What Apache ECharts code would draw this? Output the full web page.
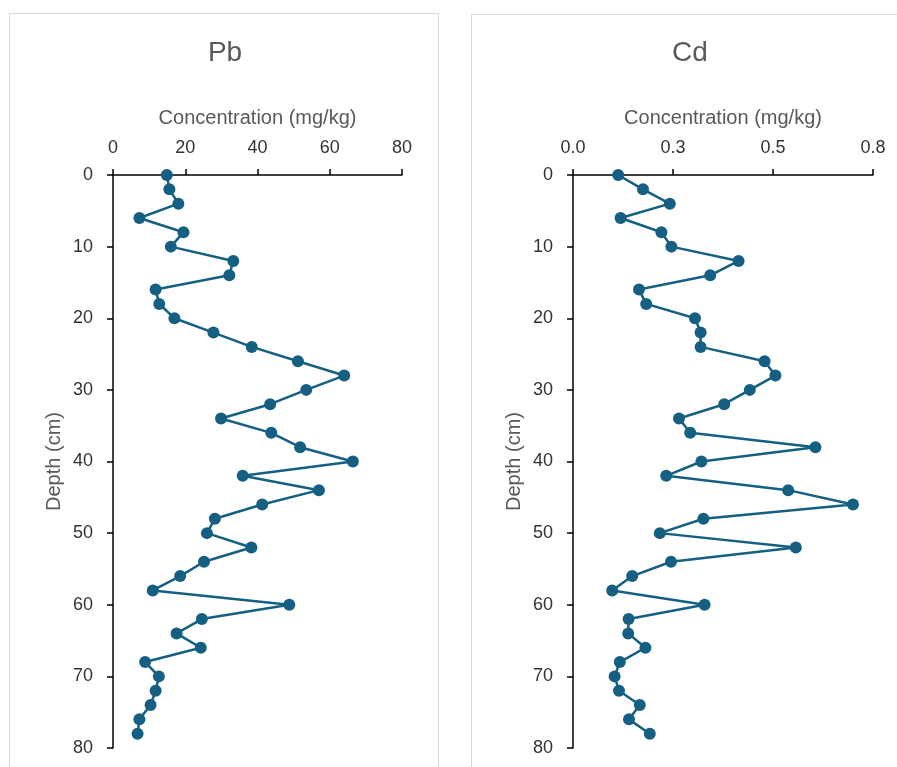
<!DOCTYPE html>
<html lang="en">
<head>
    <meta charset="UTF-8">
    <title>Pb and Cd depth profiles</title>
    <script src="https://cdn.jsdelivr.net/npm/echarts/dist/echarts.min.js"></script>
    <style>
        html, body { margin: 0; padding: 0; background: #fff; }
        .page { position: relative; width: 897px; height: 767px; overflow: hidden; }
        .panel { position: absolute; border: 1.5px solid #d9d9d9; background: #fff; }
        #chart { position: absolute; left: 0; top: 0; width: 897px; height: 767px; }
    </style>
</head>
<body>
    <div class="page">
        <div class="panel" style="left:9px; top:13px; width:428px; height:800px;"></div>
        <div class="panel" style="left:471px; top:14px; width:460px; height:800px;"></div>
        <div id="chart"></div>
    </div>
    <script>
        // depth of each sample (cm)
        var depth = [0, 2, 4, 6, 8, 10, 12, 14, 16, 18, 20, 22, 24, 26, 28, 30, 32, 34, 36, 38,
                     40, 42, 44, 46, 48, 50, 52, 54, 56, 58, 60, 62, 64, 66, 68, 70, 72, 74, 76, 78];
        // concentrations (mg/kg)
        var pb = [14.9, 15.6, 18.1, 7.3, 19.5, 16.0, 33.3, 32.2, 11.8, 12.8,
                  17.0, 27.8, 38.4, 51.2, 64.0, 53.5, 43.5, 29.9, 43.8, 51.8,
                  66.4, 35.9, 57.0, 41.3, 28.2, 26.0, 38.3, 25.2, 18.6, 11.0,
                  48.8, 24.6, 17.6, 24.3, 8.9, 12.7, 11.8, 10.4, 7.3, 6.8];
        var cd = [0.113, 0.175, 0.242, 0.119, 0.221, 0.246, 0.414, 0.343, 0.165, 0.183,
                  0.305, 0.319, 0.319, 0.479, 0.506, 0.442, 0.378, 0.265, 0.293, 0.606,
                  0.321, 0.233, 0.538, 0.700, 0.326, 0.217, 0.557, 0.245, 0.148, 0.098,
                  0.329, 0.139, 0.138, 0.181, 0.117, 0.104, 0.115, 0.167, 0.140, 0.192];
        // axis ranges
        var pbAxis = [0, 80, 20];
        var cdAxis = [0, 0.75, 0.25];
        var depthAxis = [0, 80, 10];

        var blue = '#156082';
        var font = 'Liberation Sans, Arial, sans-serif';

        function pairs(vals) {
            return vals.map(function (v, i) { return [v, depth[i]]; });
        }

        function xAxisFor(idx, range, fmt) {
            return {
                gridIndex: idx, type: 'value', position: 'top',
                min: range[0], max: range[1], interval: range[2],
                name: 'Concentration (mg/kg)', nameLocation: 'middle', nameGap: 47,
                nameTextStyle: { color: '#595959', fontSize: 20, fontFamily: font },
                axisLine: { show: true, lineStyle: { color: '#000', width: 1.5 } },
                axisTick: { show: true, length: 6, lineStyle: { color: '#000', width: 1.5 } },
                axisLabel: { color: '#333', fontSize: 18, fontFamily: font, margin: 18, formatter: fmt },
                splitLine: { show: false }
            };
        }

        function yAxisFor(idx) {
            return {
                gridIndex: idx, type: 'value', inverse: true,
                min: depthAxis[0], max: depthAxis[1], interval: depthAxis[2],
                name: 'Depth (cm)', nameLocation: 'middle', nameGap: 49,
                nameTextStyle: { color: '#595959', fontSize: 20, fontFamily: font },
                axisLine: { show: true, onZero: false, lineStyle: { color: '#000', width: 1.5 } },
                axisTick: { show: true, length: 6, lineStyle: { color: '#000', width: 1.5 } },
                axisLabel: { color: '#333', fontSize: 18, fontFamily: font, margin: 20 },
                splitLine: { show: false }
            };
        }

        function seriesFor(idx, vals) {
            return {
                type: 'line', xAxisIndex: idx, yAxisIndex: idx,
                data: pairs(vals),
                symbol: 'circle', symbolSize: 12,
                itemStyle: { color: blue },
                lineStyle: { color: blue, width: 2.5 },
                animation: false
            };
        }

        var myChart = echarts.init(document.getElementById('chart'));
        var option = {
            backgroundColor: 'transparent',
            title: [
                { text: 'Pb', left: 225, top: 39, textAlign: 'center', padding: 0,
                  textStyle: { color: '#595959', fontSize: 28, fontWeight: 'normal', fontFamily: font } },
                { text: 'Cd', left: 690, top: 39, textAlign: 'center', padding: 0,
                  textStyle: { color: '#595959', fontSize: 28, fontWeight: 'normal', fontFamily: font } }
            ],
            grid: [
                { left: 113, top: 175, width: 289, height: 573 },
                { left: 573, top: 175, width: 300, height: 573 }
            ],
            xAxis: [
                xAxisFor(0, pbAxis, function (v) { return v; }),
                xAxisFor(1, cdAxis, function (v) { return v.toFixed(1); })
            ],
            yAxis: [yAxisFor(0), yAxisFor(1)],
            series: [seriesFor(0, pb), seriesFor(1, cd)]
        };
        myChart.setOption(option);
    </script>
</body>
</html>
